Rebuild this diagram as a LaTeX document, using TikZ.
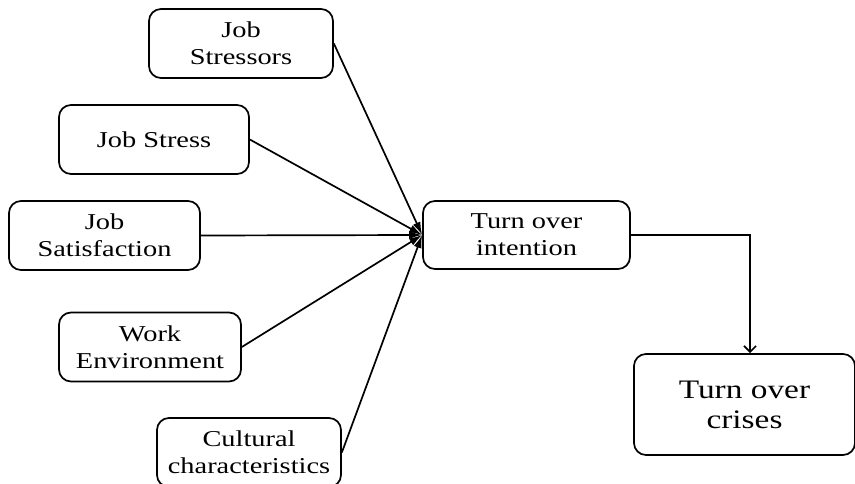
\documentclass[tikz,border=0pt]{standalone}
\usepackage{fontspec}
\setmainfont{Liberation Serif}[FakeStretch=1.25]
\usetikzlibrary{calc,arrows.meta}

\begin{document}
\begin{tikzpicture}
    [x=1pt,y=-1pt,
    factor/.style={draw,line width=1.7pt,rounded corners=12pt,align=center,inner sep=0pt,
      minimum height=69pt,font=\fontsize{22.7}{27}\selectfont},
    outcome/.style={factor,minimum height=101pt,font=\fontsize{26.7}{30}\selectfont},
    link/.style={line width=1.7pt,-{Latex[length=13pt,width=8pt]}}]
  \useasboundingbox (0,0) rectangle (855,484);
  \node[factor,minimum width=184pt] (stressors) at (241,43.5) {Job\\Stressors};
  \node[factor,minimum width=190pt] (stress) at (154,139.5) {Job Stress};
  \node[factor,minimum width=191pt] (satisf) at (104.5,235.5) {Job\\Satisfaction};
  \node[factor,minimum width=182pt] (workenv) at (150,347) {Work\\Environment};
  \node[factor,minimum width=184pt] (cultural) at (249,452.5) {Cultural\\characteristics};
  \node[factor,minimum width=207pt,minimum height=68pt] (intention) at (526.5,235) {Turn over\\intention};
  \node[outcome,minimum width=221pt] (crises) at (744.5,404.5) {Turn over\\crises};
    \draw[link] (stressors.east) -- (intention.west);
    \draw[link] (stress.east) -- (intention.west);
    \draw[link] (satisf.east) -- (intention.west);
    \draw[link] (workenv.east) -- (intention.west);
    \draw[link] (cultural.east) -- (intention.west);
  \coordinate (bend) at (750,235);
    \draw[line width=1.7pt,-{Straight Barb[length=6pt,width=12pt]}] (intention.east) -- (bend) -- (bend |- crises.north);
  \end{tikzpicture}
\end{document}
